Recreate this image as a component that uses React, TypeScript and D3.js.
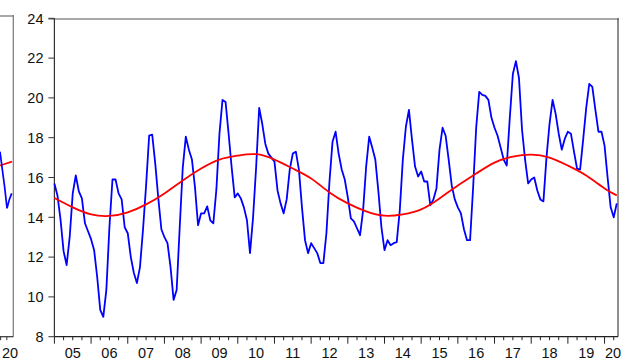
import React from "react";
import * as d3 from "d3";

const W = 624;
const H = 363;

// Monthly observations, 2005M01 .. 2020M05
const seriesValues = [
  15.7, 15.1, 13.9, 12.3, 11.6, 13.0, 15.2, 16.1, 15.3, 14.95, 13.7, 13.3,
  12.9, 12.35, 11.0, 9.35, 9.0, 10.35, 13.5, 15.9, 15.9, 15.2, 14.9, 13.5,
  13.2, 12.0, 11.2, 10.7, 11.5, 13.4, 15.6, 18.1, 18.15, 16.7, 14.95, 13.4,
  13.0, 12.7, 11.5, 9.85, 10.35, 13.5, 16.5, 18.05, 17.4, 16.9, 15.5, 13.6,
  14.2, 14.2, 14.55, 13.85, 13.7, 15.4, 18.2, 19.9, 19.8, 18.2, 16.5, 15.0,
  15.2, 14.95, 14.5, 13.85, 12.2, 14.0, 16.5, 19.5, 18.7, 17.7, 17.2, 17.0,
  16.8, 15.35, 14.7, 14.2, 14.9, 16.4, 17.2, 17.3, 16.4, 14.5, 12.85, 12.2,
  12.7, 12.45, 12.2, 11.7, 11.7, 13.2, 15.8, 17.8, 18.3, 17.2, 16.4, 15.9,
  15.0, 13.95, 13.8, 13.45, 13.1, 14.35, 16.55, 18.05, 17.5, 16.9, 15.3, 13.5,
  12.35, 12.85, 12.6, 12.7, 12.75, 14.35, 16.9, 18.55, 19.4, 17.9, 16.55, 16.05,
  16.3, 15.8, 15.8, 14.6, 14.9, 15.45, 17.4, 18.5, 18.1, 16.9, 15.6, 14.9,
  14.5, 14.2, 13.4, 12.85, 12.85, 15.5, 18.5, 20.3, 20.15, 20.1, 19.9, 19.0,
  18.5, 18.1, 17.5, 16.9, 16.6, 19.0, 21.2, 21.85, 21.0, 18.4, 16.9, 15.7,
  15.9, 16.0, 15.35, 14.9, 14.8, 17.0, 18.7, 19.9, 19.2, 18.2, 17.4, 17.95,
  18.3, 18.2, 17.3, 16.45, 16.4, 17.9, 19.5, 20.7, 20.55, 19.4, 18.3, 18.3,
  17.6, 16.0, 14.5, 14.0, 14.7,
];

// Fitted cycle, read every six months (month index from 2005M01)
const fitMonths = [
  0, 6, 12, 18, 24, 30, 36, 42, 48, 54, 60, 66, 72, 78, 84, 90, 96, 102,
  108, 114, 120, 126, 132, 138, 144, 150, 156, 162, 168, 174, 180, 184,
];
const fitValues = [
  14.97, 14.5, 14.15, 14.07, 14.25, 14.65, 15.2, 15.85, 16.45, 16.9, 17.1,
  17.17, 16.9, 16.45, 15.95, 15.25, 14.7, 14.3, 14.08, 14.15, 14.4, 14.95,
  15.6, 16.2, 16.75, 17.05, 17.15, 17.0, 16.6, 16.1, 15.45, 15.1,
];

const yTicks = [8, 10, 12, 14, 16, 18, 20, 22, 24];
const yearLabels = [
  "05", "06", "07", "08", "09", "10", "11", "12",
  "13", "14", "15", "16", "17", "18", "19", "20",
];

// Tail end of the neighbouring panel on the left
const prevSeries = [17.3, 16.4, 15.5, 14.45, 14.9, 15.2];
const prevFit = [16.6, 16.8];
const prevLabel = "20";

const FONT = "'Liberation Sans', Arial, Helvetica, sans-serif";

export default function App() {
  const left = 54.4;
  const right = 618;
  const top = 18.3;
  const bottom = 336.7;
  const nMonths = seriesValues.length;

  const x = d3.scaleLinear().domain([0, nMonths - 0.6]).range([left, right]);
  const y = d3.scaleLinear().domain([8, 24]).range([bottom, top]);

  const blueLine = d3
    .line<number>()
    .x((_, i) => x(i))
    .y((d) => y(d));

  const fitLine = d3
    .line<number>()
    .x((_, i) => x(fitMonths[i]))
    .y((d) => y(d))
    .curve(d3.curveNatural);

  // neighbouring panel scale
  const px = d3.scaleLinear().domain([0, prevSeries.length - 1]).range([0, 11.7]);
  const pfx = d3.scaleLinear().domain([0, prevFit.length - 1]).range([0, 12]);
  const prevLine = d3
    .line<number>()
    .x((_, i) => px(i))
    .y((d) => y(d));
  const prevFitLine = d3
    .line<number>()
    .x((_, i) => pfx(i))
    .y((d) => y(d));

  const monthTicks = d3.range(0, nMonths, 3);

  return (
    <svg
      width={W}
      height={H}
      style={{ position: "fixed", left: 0, top: 0, background: "#fff" }}
      fontFamily={FONT}
    >
      <rect x={0} y={0} width={W} height={H} fill="#fff" />

      {/* neighbouring panel */}
      <line x1={0} x2={13.5} y1={16} y2={16} stroke="#a8a8a8" strokeWidth={2} />
      <line x1={13.3} x2={13.3} y1={15} y2={bottom} stroke="#777" strokeWidth={1.2} />
      <line x1={0} x2={13.3} y1={bottom} y2={bottom} stroke="#333" strokeWidth={1.2} />
      <line x1={0.6} x2={0.6} y1={bottom} y2={bottom + 3.5} stroke="#333" strokeWidth={1} />
      <line x1={6.8} x2={6.8} y1={bottom} y2={bottom + 3.5} stroke="#333" strokeWidth={1} />
      <path d={prevFitLine(prevFit) ?? ""} fill="none" stroke="#ff0000" strokeWidth={1.7} />
      <path d={prevLine(prevSeries) ?? ""} fill="none" stroke="#0000ff" strokeWidth={1.7} />
      <text x={10} y={358} fontSize={14.5} textAnchor="middle" fill="#111">
        {prevLabel}
      </text>

      {/* frame */}
      <line x1={left - 6} x2={right + 1} y1={top + 0.7} y2={top + 0.7} stroke="#a8a8a8" strokeWidth={2} />
      <line x1={right} x2={right} y1={top} y2={bottom} stroke="#444" strokeWidth={1.2} />
      <line x1={left} x2={left} y1={top} y2={bottom} stroke="#333" strokeWidth={1.2} />
      <line x1={left} x2={right} y1={bottom} y2={bottom} stroke="#222" strokeWidth={1.2} />

      {/* y axis */}
      {yTicks.map((t) => (
        <g key={t}>
          <line x1={left - 6} x2={left} y1={y(t)} y2={y(t)} stroke="#333" strokeWidth={1} />
          <text
            x={43.5}
            y={y(t)}
            dy="0.36em"
            fontSize={14.5}
            textAnchor="end"
            fill="#111"
          >
            {t}
          </text>
        </g>
      ))}

      {/* x axis ticks */}
      {monthTicks.map((m) => (
        <line
          key={m}
          x1={x(m)}
          x2={x(m)}
          y1={bottom}
          y2={bottom + (m % 12 === 0 ? 7 : 3.5)}
          stroke="#222"
          strokeWidth={1}
        />
      ))}
      {yearLabels.map((lab, j) => {
        const cx = Math.min(x(j * 12 + 6), W - 11);
        return (
          <text key={lab} x={cx} y={358} fontSize={14.5} textAnchor="middle" fill="#111">
            {lab}
          </text>
        );
      })}

      {/* series */}
      <path d={blueLine(seriesValues) ?? ""} fill="none" stroke="#0000ff" strokeWidth={1.8} strokeLinejoin="round" />
      <path d={fitLine(fitValues) ?? ""} fill="none" stroke="#ff0000" strokeWidth={1.8} />
    </svg>
  );
}
